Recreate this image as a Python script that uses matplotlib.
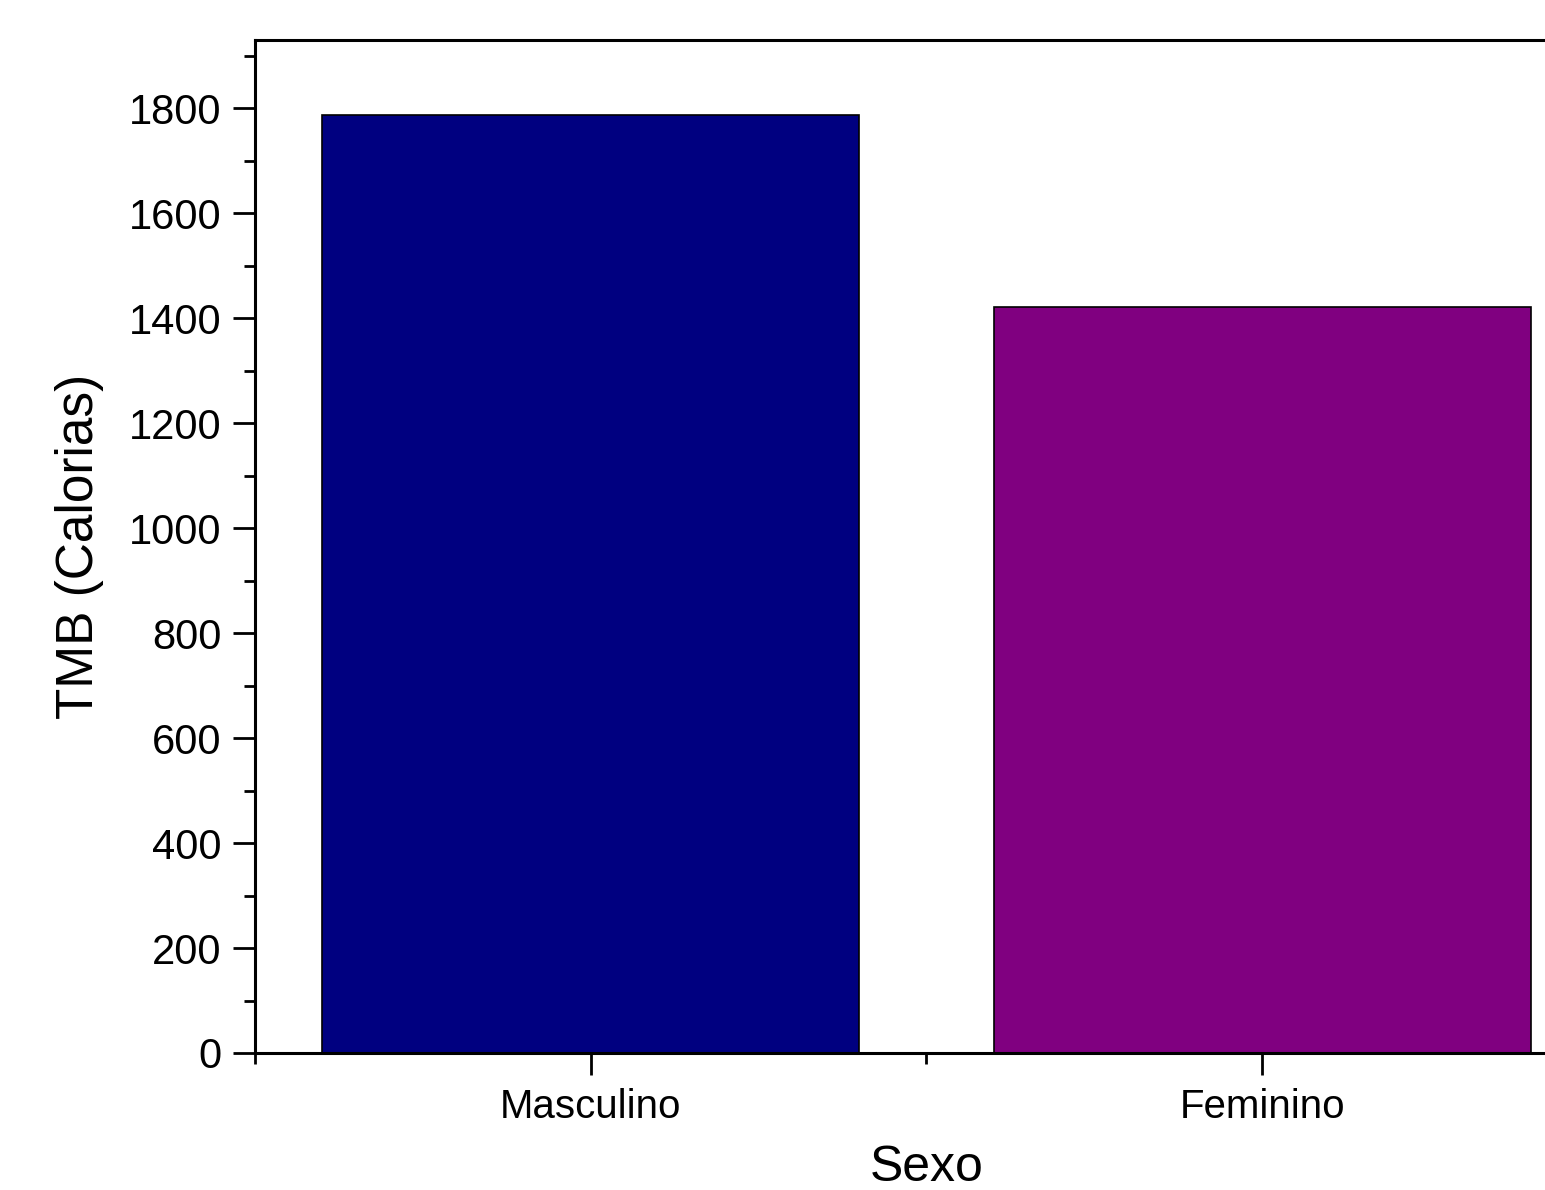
import matplotlib
matplotlib.use("Agg")

import matplotlib.pyplot as plt
from matplotlib.ticker import MultipleLocator, FixedLocator

# data
categories = ["Masculino", "Feminino"]
tmb_values = [1787, 1421]
bar_colors = ["#000080", "#800080"]

plt.rcParams["font.family"] = ["Liberation Sans", "DejaVu Sans"]

fig = plt.figure(figsize=(15.45, 11.9), dpi=100)
# right edge of the axes falls outside the figure, as in the cropped original
ax = fig.add_axes([255 / 1545, 1 - 1053 / 1190, 1343 / 1545, 1013 / 1190])

positions = list(range(1, len(categories) + 1))
ax.bar(positions, tmb_values, width=0.8, color=bar_colors,
       edgecolor="black", linewidth=1.2, zorder=2)

ax.set_xlim(0.5, 2.5)
ax.set_ylim(0, 1930)

ax.set_xticks(positions)
ax.set_xticklabels(categories)
ax.xaxis.set_minor_locator(FixedLocator([0.5, 1.5, 2.5]))
ax.yaxis.set_major_locator(MultipleLocator(200))
ax.yaxis.set_minor_locator(MultipleLocator(100))

ax.tick_params(axis="both", which="major", direction="out", length=16,
               width=2, labelsize=30, pad=8)
ax.tick_params(axis="both", which="minor", direction="out", length=8,
               width=2)
ax.tick_params(axis="x", which="major", labelsize=29, pad=9)

for side in ["left", "bottom", "top", "right"]:
    ax.spines[side].set_linewidth(2.2)

ax.set_xlabel("Sexo", fontsize=36, labelpad=14)
ax.set_ylabel("TMB (Calorias)", fontsize=37, labelpad=18)

fig.savefig("out.png", dpi=100)
plt.close(fig)
